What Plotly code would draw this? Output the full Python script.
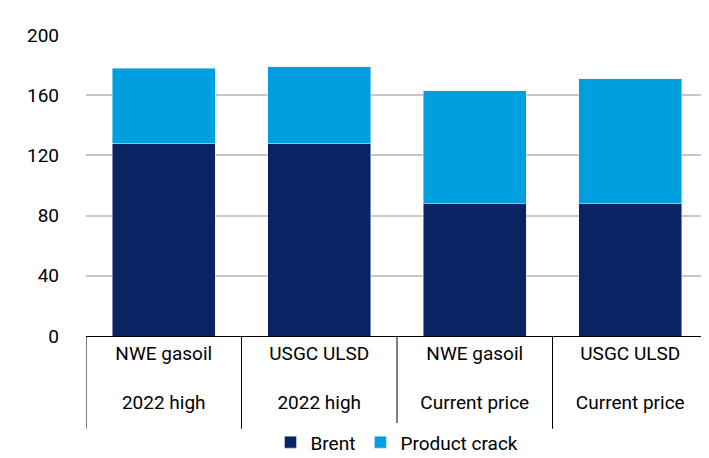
import plotly.graph_objects as go

categories = ["NWE gasoil<br><br>2022 high", "USGC ULSD<br><br>2022 high",
              "NWE gasoil<br><br>Current price", "USGC ULSD<br><br>Current price"]
brent = [128, 128, 88, 88]
crack = [50, 51, 75, 83]
y_ticks = [0, 40, 80, 120, 160, 200]

font_family = "Liberation Sans Narrow, Roboto, Open Sans"

fig = go.Figure()
fig.add_bar(x=categories, y=brent, name="Brent", marker_color="#0a2463", width=0.66)
fig.add_bar(x=categories, y=crack, name="Product crack", marker_color="#009fdf", width=0.66)

# table-like divider lines under the axis
for i in range(len(categories) + 1):
    fig.add_shape(type="line", xref="x", yref="paper", x0=i - 0.5, x1=i - 0.5,
                  y0=0, y1=-0.308, line=dict(color="#000000", width=1))

fig.update_layout(
    barmode="stack",
    width=709, height=458,
    margin=dict(l=78, r=9, t=27, b=130, autoexpand=False),
    plot_bgcolor="white", paper_bgcolor="white",
    font=dict(family=font_family, size=19, color="#000000"),
    legend=dict(orientation="h", x=0.5, xanchor="center", y=-0.29, yanchor="top",
                font=dict(size=19), traceorder="normal", itemwidth=30),
    bargap=0.34,
)
fig.update_yaxes(range=[0, 200], tickvals=y_ticks, gridcolor="#c8c8c8", gridwidth=2,
                 zeroline=False, showline=False, ticks="", ticklabelstandoff=26,
                 automargin=False)
fig.update_xaxes(showline=True, linecolor="#000000", linewidth=1, ticks="",
                 range=[-0.5, 3.5], tickfont=dict(size=19), automargin=False)

fig.write_html("out.html")
